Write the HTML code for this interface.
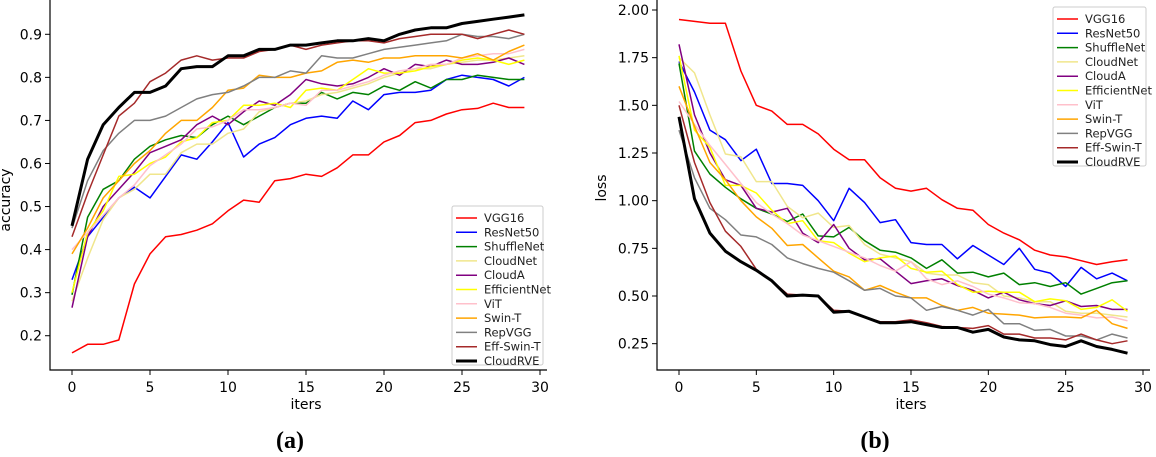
<!DOCTYPE html>
<html><head><meta charset="utf-8"><style>
html,body{margin:0;padding:0;background:#fff;}
svg text{font-family:"DejaVu Sans","Liberation Sans",sans-serif;}
</style></head><body>
<svg id="fig" width="1156" height="452" viewBox="0 0 1156 452" xmlns="http://www.w3.org/2000/svg"></svg>
<script>
const names = ["VGG16","ResNet50","ShuffleNet","CloudNet","CloudA","EfficientNet","ViT","Swin-T","RepVGG","Eff-Swin-T","CloudRVE"];
const colors = ["#ff0000","#0000ff","#008000","#f0e68c","#800080","#ffff00","#ffc0cb","#ffa500","#808080","#a52a2a","#000000"];
const xTicks = [0,5,10,15,20,25,30];
const accTicks = ["0.2","0.3","0.4","0.5","0.6","0.7","0.8","0.9"];
const lossTicks = ["0.25","0.50","0.75","1.00","1.25","1.50","1.75","2.00"];
const accVGG16 = [0.16,0.18,0.18,0.19,0.32,0.39,0.43,0.435,0.445,0.46,0.49,0.515,0.51,0.56,0.565,0.575,0.57,0.59,0.62,0.62,0.65,0.665,0.695,0.70,0.715,0.725,0.728,0.74,0.73,0.73];
const accResNet50 = [0.33,0.43,0.475,0.52,0.545,0.52,0.57,0.62,0.61,0.65,0.695,0.615,0.645,0.66,0.69,0.705,0.71,0.705,0.745,0.725,0.76,0.765,0.765,0.77,0.795,0.805,0.8,0.795,0.78,0.8];
const accShuffleNet = [0.295,0.475,0.54,0.56,0.61,0.64,0.655,0.665,0.66,0.69,0.71,0.69,0.71,0.73,0.74,0.74,0.765,0.75,0.765,0.76,0.78,0.77,0.79,0.775,0.795,0.795,0.805,0.8,0.795,0.795];
const accCloudNet = [0.28,0.38,0.47,0.52,0.54,0.575,0.575,0.625,0.645,0.645,0.67,0.68,0.72,0.73,0.74,0.745,0.76,0.765,0.775,0.785,0.80,0.81,0.82,0.82,0.83,0.835,0.84,0.84,0.845,0.85];
const accCloudA = [0.265,0.43,0.5,0.54,0.58,0.625,0.64,0.655,0.69,0.71,0.69,0.72,0.745,0.735,0.76,0.795,0.785,0.78,0.785,0.8,0.82,0.805,0.83,0.825,0.84,0.83,0.83,0.835,0.845,0.83];
const accEfficientNet = [0.30,0.44,0.49,0.57,0.575,0.6,0.615,0.65,0.66,0.695,0.70,0.735,0.735,0.74,0.73,0.77,0.775,0.77,0.795,0.82,0.81,0.81,0.815,0.825,0.83,0.84,0.845,0.84,0.83,0.84];
const accViT = [0.40,0.44,0.48,0.52,0.55,0.595,0.62,0.645,0.68,0.685,0.70,0.725,0.725,0.73,0.74,0.735,0.77,0.77,0.78,0.79,0.805,0.815,0.82,0.83,0.83,0.845,0.85,0.855,0.855,0.865];
const accSwinT = [0.39,0.45,0.52,0.56,0.60,0.63,0.67,0.70,0.70,0.73,0.77,0.775,0.805,0.80,0.80,0.81,0.815,0.835,0.84,0.835,0.845,0.845,0.85,0.85,0.85,0.845,0.855,0.84,0.86,0.875];
const accRepVGG = [0.45,0.56,0.63,0.67,0.70,0.70,0.71,0.73,0.75,0.76,0.765,0.78,0.80,0.80,0.815,0.81,0.85,0.845,0.845,0.855,0.865,0.87,0.875,0.88,0.885,0.9,0.895,0.895,0.89,0.90];
const accEffSwinT = [0.43,0.53,0.62,0.71,0.74,0.79,0.81,0.84,0.85,0.84,0.845,0.845,0.86,0.865,0.875,0.865,0.875,0.88,0.885,0.885,0.88,0.89,0.895,0.90,0.9,0.9,0.89,0.90,0.91,0.90];
const accCloudRVE = [0.455,0.61,0.69,0.73,0.765,0.765,0.78,0.82,0.825,0.825,0.85,0.85,0.865,0.865,0.875,0.875,0.88,0.885,0.885,0.89,0.885,0.90,0.91,0.915,0.915,0.925,0.93,0.935,0.94,0.945];
const lossVGG16 = [1.95,1.94,1.93,1.93,1.68,1.50,1.47,1.40,1.40,1.35,1.27,1.215,1.215,1.12,1.065,1.05,1.065,1.005,0.96,0.95,0.875,0.83,0.795,0.74,0.715,0.705,0.685,0.665,0.68,0.69];
const lossResNet50 = [1.73,1.57,1.37,1.32,1.21,1.27,1.09,1.09,1.08,1.0,0.895,1.065,0.99,0.885,0.90,0.78,0.77,0.77,0.695,0.765,0.715,0.665,0.75,0.64,0.62,0.55,0.65,0.59,0.62,0.58];
const lossShuffleNet = [1.72,1.26,1.14,1.07,1.01,0.96,0.93,0.89,0.93,0.815,0.81,0.86,0.79,0.74,0.73,0.70,0.645,0.69,0.62,0.625,0.60,0.62,0.56,0.57,0.55,0.57,0.51,0.54,0.57,0.58];
const lossCloudNet = [1.75,1.67,1.45,1.245,1.23,1.10,1.10,0.97,0.91,0.935,0.86,0.87,0.77,0.72,0.70,0.68,0.62,0.61,0.61,0.57,0.56,0.50,0.49,0.47,0.47,0.42,0.41,0.41,0.40,0.39];
const lossCloudA = [1.82,1.45,1.25,1.11,1.08,0.96,0.94,0.96,0.83,0.78,0.875,0.75,0.69,0.695,0.63,0.565,0.58,0.59,0.555,0.53,0.49,0.52,0.48,0.46,0.45,0.475,0.445,0.45,0.43,0.43];
const lossEfficientNet = [1.76,1.37,1.28,1.08,1.08,1.04,0.95,0.88,0.895,0.79,0.78,0.725,0.68,0.70,0.71,0.645,0.625,0.63,0.56,0.52,0.525,0.52,0.52,0.47,0.485,0.475,0.43,0.44,0.48,0.42];
const lossViT = [1.52,1.40,1.29,1.19,1.09,0.99,0.93,0.88,0.82,0.79,0.76,0.73,0.70,0.66,0.63,0.68,0.59,0.56,0.58,0.55,0.51,0.49,0.465,0.46,0.44,0.41,0.40,0.385,0.39,0.37];
const lossSwinT = [1.60,1.39,1.20,1.11,1.00,0.915,0.855,0.765,0.77,0.70,0.63,0.60,0.53,0.555,0.52,0.49,0.49,0.45,0.425,0.44,0.41,0.405,0.40,0.385,0.39,0.39,0.385,0.425,0.355,0.33];
const lossRepVGG = [1.37,1.12,0.96,0.90,0.82,0.81,0.77,0.70,0.67,0.645,0.625,0.58,0.53,0.54,0.50,0.49,0.425,0.445,0.425,0.40,0.43,0.355,0.355,0.32,0.325,0.29,0.29,0.27,0.30,0.28];
const lossEffSwinT = [1.50,1.20,0.99,0.84,0.76,0.64,0.58,0.51,0.505,0.50,0.425,0.42,0.39,0.365,0.365,0.375,0.36,0.34,0.335,0.33,0.345,0.30,0.30,0.28,0.28,0.27,0.30,0.27,0.25,0.265];
const lossCloudRVE = [1.44,1.01,0.83,0.735,0.68,0.635,0.58,0.50,0.505,0.50,0.415,0.42,0.39,0.36,0.36,0.365,0.35,0.335,0.335,0.31,0.325,0.285,0.27,0.265,0.245,0.235,0.265,0.235,0.22,0.20];

const accSeries = [accVGG16,accResNet50,accShuffleNet,accCloudNet,accCloudA,accEfficientNet,accViT,accSwinT,accRepVGG,accEffSwinT,accCloudRVE];
const lossSeries = [lossVGG16,lossResNet50,lossShuffleNet,lossCloudNet,lossCloudA,lossEfficientNet,lossViT,lossSwinT,lossRepVGG,lossEffSwinT,lossCloudRVE];

const NS="http://www.w3.org/2000/svg";
const svg=document.getElementById('fig');
function mk(tag,attrs,parent){const e=document.createElementNS(NS,tag);for(const k in attrs)e.setAttribute(k,attrs[k]);(parent||svg).appendChild(e);return e;}

function drawChart(cfg){
  const g=mk('g',{});
  
  
  const X=v=>cfg.x0+(v-0)*(cfg.x30-cfg.x0)/30;
  const Y=v=>cfg.yTopPx+(cfg.yTopVal-v)*cfg.pxPerUnit;
  cfg.series.forEach((s,si)=>{
    const pts=s.map((v,i)=>X(i).toFixed(1)+','+Y(v).toFixed(1)).join(' ');
    const pl=mk('polyline',{points:pts,fill:'none',stroke:colors[si],'stroke-width':si===10?3:1.5,'stroke-linejoin':'round'},g);
    
    
  });
  const sp=mk('path',{d:`M${cfg.left},0 V${cfg.bottom} H${cfg.right}`,fill:'none',stroke:'#000','stroke-width':1.2},g);
  
  
  xTicks.forEach(t=>{
    mk('line',{x1:X(t),x2:X(t),y1:cfg.bottom,y2:cfg.bottom+5,stroke:'#000','stroke-width':1},g);
    const tx=mk('text',{x:X(t),y:cfg.bottom+22,'font-size':14,'text-anchor':'middle',fill:'#000'},g);
    tx.textContent=t;
    
    
  });
  cfg.yTicks.forEach(t=>{
    const v=parseFloat(t);
    mk('line',{x1:cfg.left-5,x2:cfg.left,y1:Y(v),y2:Y(v),stroke:'#000','stroke-width':1},g);
    const tx=mk('text',{x:cfg.left-8,y:Y(v)+5,'font-size':14,'text-anchor':'end',fill:'#000'},g);
    tx.textContent=t;
    
    
  });
  const xl=mk('text',{x:(cfg.x0+cfg.x30)/2,y:409,'font-size':14,'text-anchor':'middle'},g);
  xl.textContent='iters';
  
  
  const yl=mk('text',{x:cfg.ylx,y:cfg.yly,'font-size':14,'text-anchor':'middle',transform:`rotate(-90 ${cfg.ylx} ${cfg.yly})`},g);
  yl.textContent=cfg.ylabel;
  
  
  const cap=mk('text',{x:cfg.capx,y:448,'font-size':24,'font-weight':'bold','text-anchor':'middle',style:'font-family:"Liberation Serif",serif'},g);
  cap.textContent=cfg.caption;
  
  
  const lg=mk('g',{},g);
  
  
  mk('rect',{x:cfg.lx,y:cfg.ly,width:cfg.lw,height:159,rx:2,fill:'#fff','fill-opacity':0.85,stroke:'#ccc','stroke-width':1},lg);
  names.forEach((n,i)=>{
    const yy=cfg.ly+12+i*14.3;
    const eg=mk('g',{},lg);
    
    
    mk('line',{x1:cfg.lx+4,x2:cfg.lx+25,y1:yy,y2:yy,stroke:colors[i],'stroke-width':i===10?3:1.5},eg);
    const t=mk('text',{x:cfg.lx+32,y:yy+4,'font-size':11.5,fill:'#222'},eg);
    t.textContent=n;
  });
}

drawChart({id:'accuracy',series:accSeries,x0:72,x30:540,left:50,right:547,bottom:370,
  yTopPx:34.3,yTopVal:0.9,pxPerUnit:430.6,yTicks:accTicks,ylabel:'accuracy',ylx:10,yly:200,
  caption:'(a)',capx:290,lx:452,ly:206,lw:91});
drawChart({id:'loss',series:lossSeries,x0:679,x30:1143,left:657,right:1150,bottom:370,
  yTopPx:10,yTopVal:2.0,pxPerUnit:190.67,yTicks:lossTicks,ylabel:'loss',ylx:606,yly:188,
  caption:'(b)',capx:875,lx:1053,ly:7,lw:93});
</script>
</body></html>
